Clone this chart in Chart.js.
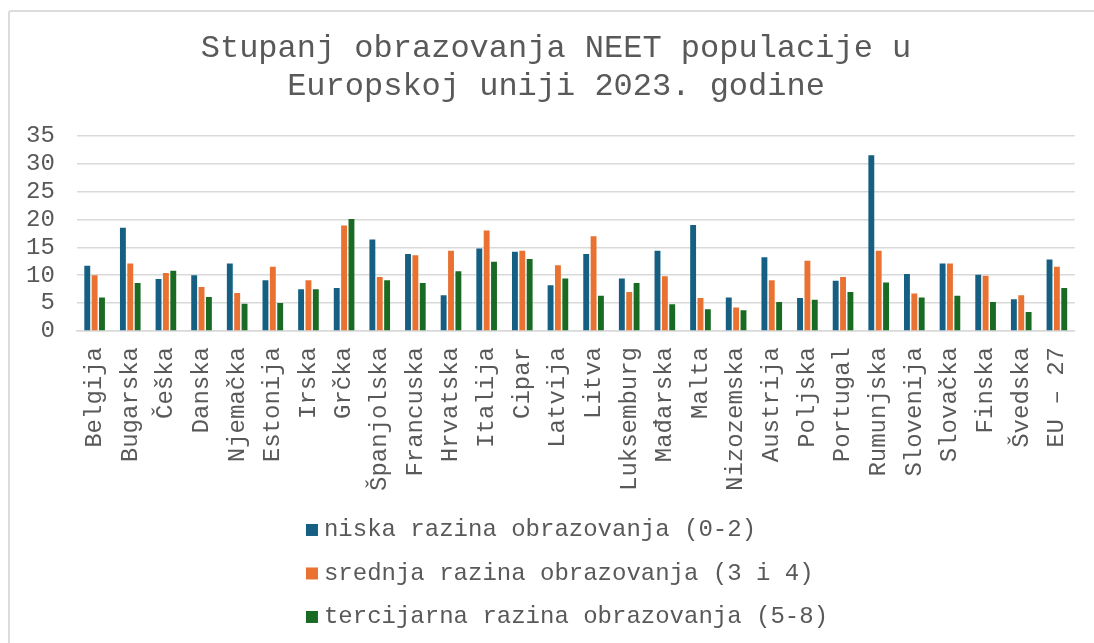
<!DOCTYPE html>
<html>
<head>
<meta charset="utf-8">
<script src="https://cdn.jsdelivr.net/npm/chart.js@4"></script>
<style>
  html, body { margin: 0; padding: 0; background: #fff; overflow: hidden; }
  #wrap { position: relative; width: 1094px; height: 643px; }
  #frame {
    position: absolute; left: 8px; top: 10px; width: 1300px; height: 900px;
    border: 2px solid #dcdcdc; border-radius: 3px; pointer-events: none;
  }
</style>
</head>
<body>
<div id="wrap">
  <canvas id="neetChart" width="1094" height="643"></canvas>
  <div id="frame"></div>
</div>
<script>
const categories = [
  "Belgija", "Bugarska", "Češka", "Danska", "Njemačka", "Estonija", "Irska",
  "Grčka", "Španjolska", "Francuska", "Hrvatska", "Italija", "Cipar", "Latvija",
  "Litva", "Luksemburg", "Mađarska", "Malta", "Nizozemska", "Austrija",
  "Poljska", "Portugal", "Rumunjska", "Slovenija", "Slovačka", "Finska",
  "Švedska", "EU – 27",
];

const niska = [
  11.7, 18.5, 9.3, 10.0, 12.1, 9.1, 7.5, 7.7, 16.4, 13.8, 6.4, 14.8, 14.2, 8.2,
  13.8, 9.4, 14.4, 19.0, 6.0, 13.2, 5.9, 9.0, 31.5, 10.2, 12.1, 10.1, 5.7, 12.8,
];
const srednja = [
  10.0, 12.1, 10.4, 7.9, 6.8, 11.5, 9.1, 18.9, 9.7, 13.6, 14.4, 18.0, 14.4, 11.8,
  17.0, 7.0, 9.8, 5.9, 4.2, 9.1, 12.6, 9.7, 14.4, 6.7, 12.1, 9.9, 6.4, 11.5,
];
const tercijarna = [
  6.0, 8.6, 10.8, 6.1, 4.9, 5.0, 7.5, 20.1, 9.1, 8.6, 10.7, 12.4, 12.9, 9.4,
  6.3, 8.6, 4.8, 3.9, 3.7, 5.2, 5.6, 7.0, 8.7, 6.0, 6.3, 5.2, 3.4, 7.7,
];

const seriesLabels = [
  "niska razina obrazovanja (0-2)",
  "srednja razina obrazovanja (3 i 4)",
  "tercijarna razina obrazovanja (5-8)",
];
const titleLines = ["Stupanj obrazovanja NEET populacije u", "Europskoj uniji 2023. godine"];

const FONT = "'Liberation Mono', 'Courier New', monospace";
const TEXT = "#595959";
const GRID = "#d9d9d9";

// legend drawn one item per row under the axis labels
const stackedLegend = {
  id: "stackedLegend",
  afterLayout(chart, args, opts) {
    // title sits a little right of the canvas centre
    if (chart.titleBlock) chart.titleBlock.left += opts.titleShift * 2;
  },
  afterDraw(chart, args, opts) {
    const ctx = chart.ctx;
    ctx.save();
    ctx.font = opts.fontSize + "px " + FONT;
    const sets = chart.data.datasets;
    const maxW = Math.max(...sets.map((d) => ctx.measureText(d.label).width));
    const x0 = chart.width / 2 - (opts.box + opts.gap + maxW) / 2 + opts.shift;
    sets.forEach((d, i) => {
      const y = chart.chartArea.bottom + opts.offset + i * opts.rowHeight;
      ctx.fillStyle = d.backgroundColor;
      ctx.fillRect(x0, y - opts.box / 2, opts.box, opts.box);
      ctx.fillStyle = TEXT;
      ctx.textBaseline = "middle";
      ctx.textAlign = "left";
      ctx.fillText(d.label, x0 + opts.box + opts.gap, y);
    });
    ctx.restore();
  },
};

new Chart(document.getElementById("neetChart"), {
  type: "bar",
  data: {
    labels: categories,
    datasets: [
      { label: seriesLabels[0], data: niska, backgroundColor: "#156082" },
      { label: seriesLabels[1], data: srednja, backgroundColor: "#E97132" },
      { label: seriesLabels[2], data: tercijarna, backgroundColor: "#196B24" },
    ].map((d) => ({ ...d, categoryPercentage: 0.62, barPercentage: 0.8 })),
  },
  options: {
    responsive: false,
    animation: false,
    layout: { padding: { top: 29, left: 4, right: 18, bottom: 144 } },
    plugins: {
      legend: { display: false },
      tooltip: { enabled: false },
      title: {
        display: true,
        text: titleLines,
        color: TEXT,
        font: { family: FONT, size: 32, weight: "normal", lineHeight: 1.2 },
        padding: { top: 0, bottom: 30 },
      },
      stackedLegend: {
        fontSize: 24, box: 12, gap: 6, shift: 20, offset: 199, rowHeight: 43.5, titleShift: 16,
      },
    },
    scales: {
      x: {
        grid: { display: false },
        border: { color: GRID, width: 1.5 },
        ticks: {
          color: TEXT,
          font: { family: FONT, size: 24 },
          minRotation: 90,
          maxRotation: 90,
          autoSkip: false,
          padding: 8,
        },
      },
      y: {
        min: 0,
        max: 35,
        grid: { color: GRID, lineWidth: 1.5, drawTicks: false },
        border: { display: false },
        ticks: {
          stepSize: 5,
          autoSkip: false,
          color: TEXT,
          font: { family: FONT, size: 24 },
          padding: 22,
        },
      },
    },
  },
  plugins: [stackedLegend],
});
</script>
</body>
</html>
